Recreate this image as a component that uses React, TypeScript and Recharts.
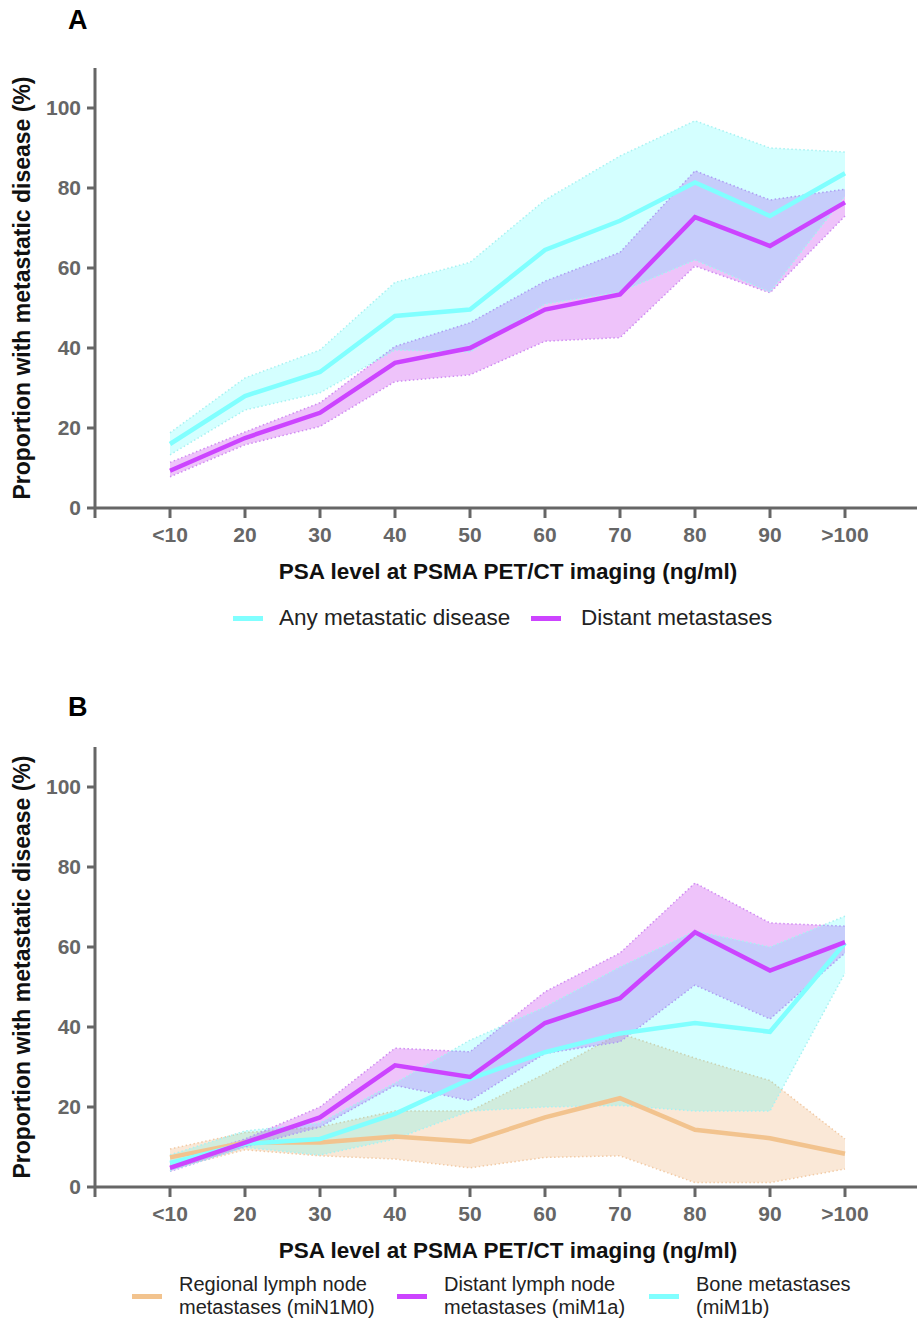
import { ComposedChart, Area, Line, XAxis, YAxis } from 'recharts'

// PSA categories (x positions 1..10)
const psaLabels = ['<10', '20', '30', '40', '50', '60', '70', '80', '90', '>100']
const yTicks = [0, 20, 40, 60, 80, 100]

// Panel A
const anyMet = [16, 28, 34, 48, 49.6, 64.5, 71.8, 81.4, 73, 83.7]
const anyMetLo = [13.3, 24.5, 28.8, 39.5, 39, 51, 54, 62, 54, 78]
const anyMetHi = [18.8, 32.5, 39.5, 56.4, 61.4, 77, 88, 96.8, 90, 89]
const distMet = [9.3, 17.5, 23.8, 36.3, 40, 49.6, 53.4, 72.7, 65.5, 76.4]
const distMetLo = [7.8, 15.8, 20.4, 31.6, 33.3, 41.7, 42.6, 60.5, 53.8, 73]
const distMetHi = [11.4, 19, 26.3, 40.4, 46.3, 56.7, 63.9, 84.3, 77, 79.7]

// Panel B
const regional = [7.4, 11.1, 11.1, 12.6, 11.3, 17.4, 22.2, 14.3, 12.2, 8.3]
const regionalLo = [4.5, 9.3, 7.8, 7, 4.8, 7.4, 7.8, 1.1, 1.1, 4.5]
const regionalHi = [9.5, 13.6, 15, 19, 19, 28.3, 38.4, 32.2, 26.6, 12]
const distLN = [4.8, 11.1, 17.4, 30.4, 27.5, 41, 47.2, 63.7, 54.1, 61.2]
const distLNLo = [3.9, 10, 15, 25.4, 21.6, 33.4, 36.3, 50.5, 42, 58.5]
const distLNHi = [6, 12, 20, 34.7, 33.8, 48.8, 58.5, 76, 66, 65.2]
const bone = [6, 10.8, 12, 18.3, 27, 33.7, 38.4, 41, 38.8, 61]
const boneLo = [4, 9.9, 8, 12, 19, 20, 20.4, 19, 19, 53.5]
const boneHi = [8, 14, 16, 26, 36.7, 45, 55, 64, 60, 67.7]

const dataA = psaLabels.map((_, i) => ({
  x: i + 1,
  any: anyMet[i],
  anyBand: [anyMetLo[i], anyMetHi[i]],
  dist: distMet[i],
  distBand: [distMetLo[i], distMetHi[i]],
}))

const dataB = psaLabels.map((_, i) => ({
  x: i + 1,
  reg: regional[i],
  regBand: [regionalLo[i], regionalHi[i]],
  dln: distLN[i],
  dlnBand: [distLNLo[i], distLNHi[i]],
  bone: bone[i],
  boneBand: [boneLo[i], boneHi[i]],
}))

const FONT = '"Liberation Sans", Arial, Helvetica, sans-serif'
const AXIS = '#666666'
const CYAN = '#80FFFF'
const MAGENTA = '#CC44FF'
const ORANGE = '#F2C38E'

function YLabel({ viewBox }: any) {
  const cy = viewBox.y + viewBox.height / 2
  return (
    <text x={22} y={cy} dy="0.35em" transform={`rotate(-90, 22, ${cy})`} textAnchor="middle"
      fontSize={23} fontWeight={700} fontFamily={FONT} fill="#111">
      Proportion with metastatic disease (%)
    </text>
  )
}

function XLabel({ viewBox }: any) {
  return (
    <text x={viewBox.x + viewBox.width / 2 + 2} y={viewBox.y + 71} textAnchor="middle"
      fontSize={22.5} fontWeight={700} fontFamily={FONT} fill="#111">
      PSA level at PSMA PET/CT imaging (ng/ml)
    </text>
  )
}

function axes() {
  return [
    <XAxis key="x" type="number" dataKey="x" domain={[0, 10.96]} ticks={[0, ...psaLabels.map((_, i) => i + 1)]}
      interval={0} allowDataOverflow height={30}
      tickFormatter={(v: number) => (v === 0 ? '' : psaLabels[v - 1])}
      tick={{ fontSize: 21, fontWeight: 700, fill: AXIS, fontFamily: FONT }}
      tickSize={10} tickMargin={9}
      axisLine={{ stroke: AXIS, strokeWidth: 3 }} tickLine={{ stroke: AXIS, strokeWidth: 3 }}
      label={(p: any) => <XLabel {...p} />} />,
    <YAxis key="y" type="number" domain={[0, 110]} ticks={yTicks} interval={0} width={60}
      tick={{ fontSize: 21, fontWeight: 700, fill: AXIS, fontFamily: FONT }}
      tickSize={8} tickMargin={6}
      axisLine={{ stroke: AXIS, strokeWidth: 3 }} tickLine={{ stroke: AXIS, strokeWidth: 3 }}
      label={(p: any) => <YLabel {...p} />} />,
  ]
}

function band(key: string, fill: string, opacity: number, stroke: string) {
  return (
    <Area key={key} dataKey={key} type="linear" fill={fill} fillOpacity={opacity}
      stroke={stroke} strokeWidth={1.5} strokeDasharray="1.5 2.5" dot={false} activeDot={false}
      isAnimationActive={false} />
  )
}

function line(key: string, color: string) {
  return (
    <Line key={key} dataKey={key} type="linear" stroke={color} strokeWidth={4.5} dot={false}
      activeDot={false} isAnimationActive={false} />
  )
}

const swatch = (color: string) => (
  <div style={{ width: 30, height: 5, background: color }} />
)

export default function App() {
  return (
    <div style={{ position: 'absolute', left: 0, top: 0, width: 917, height: 1320, background: '#fff', fontFamily: FONT }}>
      <div style={{ position: 'absolute', left: 68, top: 4, fontSize: 27, fontWeight: 700, lineHeight: '32px' }}>A</div>
      <div style={{ position: 'absolute', left: 0, top: 0 }}>
        <ComposedChart width={917} height={600} data={dataA} margin={{ top: 68, right: 0, bottom: 62, left: 35 }}>
          {axes()}
          {band('distBand', '#CE54F1', 0.35, '#D08CF2')}
          {line('dist', MAGENTA)}
          {band('anyBand', '#00FFFF', 0.17, '#A8F2F2')}
          {line('any', CYAN)}
        </ComposedChart>
      </div>
      <div style={{ position: 'absolute', top: 605, left: 0, fontSize: 22.5, color: '#222', lineHeight: '26px' }}>
        <div style={{ position: 'absolute', left: 233, top: 11 }}>{swatch(CYAN)}</div>
        <div style={{ position: 'absolute', left: 279, top: 0, whiteSpace: 'nowrap' }}>Any metastatic disease</div>
        <div style={{ position: 'absolute', left: 531, top: 11 }}>{swatch(MAGENTA)}</div>
        <div style={{ position: 'absolute', left: 581, top: 0, whiteSpace: 'nowrap' }}>Distant metastases</div>
      </div>

      <div style={{ position: 'absolute', left: 68, top: 691, fontSize: 27, fontWeight: 700, lineHeight: '32px' }}>B</div>
      <div style={{ position: 'absolute', left: 0, top: 680 }}>
        <ComposedChart width={917} height={600} data={dataB} margin={{ top: 67, right: 0, bottom: 63, left: 35 }}>
          {axes()}
          {band('regBand', '#EEB27A', 0.3, '#F2CBA6')}
          {band('dlnBand', '#CE54F1', 0.35, '#D08CF2')}
          {band('boneBand', '#00FFFF', 0.17, '#A8F2F2')}
          {line('reg', ORANGE)}
          {line('bone', CYAN)}
          {line('dln', MAGENTA)}
        </ComposedChart>
      </div>
      <div style={{ position: 'absolute', top: 1273, left: 0, fontSize: 20, color: '#222', lineHeight: '23px' }}>
        <div style={{ position: 'absolute', left: 132, top: 21 }}>{swatch(ORANGE)}</div>
        <div style={{ position: 'absolute', left: 179, top: 0, whiteSpace: 'nowrap' }}>Regional lymph node<br />metastases (miN1M0)</div>
        <div style={{ position: 'absolute', left: 397, top: 21 }}>{swatch(MAGENTA)}</div>
        <div style={{ position: 'absolute', left: 444, top: 0, whiteSpace: 'nowrap' }}>Distant lymph node<br />metastases (miM1a)</div>
        <div style={{ position: 'absolute', left: 649, top: 21 }}>{swatch(CYAN)}</div>
        <div style={{ position: 'absolute', left: 696, top: 0, whiteSpace: 'nowrap' }}>Bone metastases<br />(miM1b)</div>
      </div>
    </div>
  )
}
